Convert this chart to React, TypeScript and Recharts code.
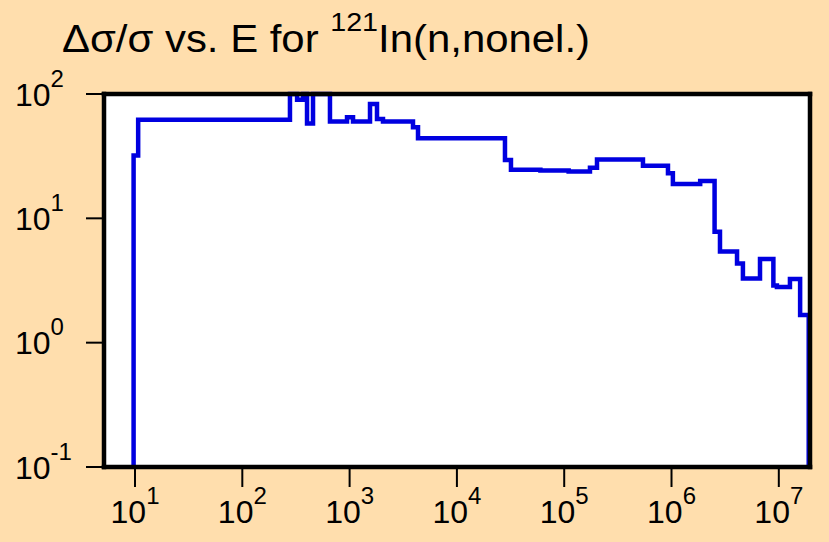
import { CartesianGrid, Line, LineChart, XAxis, YAxis } from "recharts";

// bin edges in eV and the relative uncertainty (%) of each bin
const binEdges = [
  9.7, 10.7, 278, 324, 368, 401, 456, 656, 946, 1076, 1549, 1800, 2047, 3897, 4340,
  28050, 31900, 60000, 110000, 173800, 202100, 542000, 927000, 1.03e6, 1.85e6,
  2.52e6, 2.83e6, 4.08e6, 4.63e6, 6.68e6, 8.9e6, 9.6e6, 1.27e7, 1.58e7, 1.9e7,
];
const relUncert = [
  32, 62, 100, 90, 100, 58, 100, 60, 65, 60, 83, 63, 60, 54, 44,
  29.4, 24.6, 24.2, 23.8, 25.5, 29.7, 26.5, 23, 18.9, 20,
  7.8, 5.4, 4.33, 3.28, 4.71, 2.88, 2.8, 3.25, 1.67,
];
const xTicks = [1e1, 1e2, 1e3, 1e4, 1e5, 1e6, 1e7];
const yTicks = [0.1, 1, 10, 100];
const xDomain = [5.14, 1.953e7];
const yDomain = [0.1, 100];

const data = [
  { e: binEdges[0], v: yDomain[0] },
  ...relUncert.map((v, i) => ({ e: binEdges[i], v })),
  { e: binEdges[binEdges.length - 1], v: yDomain[0] },
];

const FONT = "'Liberation Sans', Arial, Helvetica, sans-serif";
const BG = "#FFDEAD";
const frame = { stroke: "#000", strokeWidth: 4.5, strokeLinecap: "square" as const };
const tickLn = { stroke: "#000", strokeWidth: 2 };

function exp10(v: number) {
  return String(Math.round(Math.log10(v)));
}

function BottomTick(props: any) {
  const { x, payload } = props;
  return (
    <text x={x} y={523} textAnchor="middle" fontFamily={FONT} fontSize={32} fill="#000">
      <tspan>10</tspan>
      <tspan dy={-19} fontSize={24}>{exp10(payload.value)}</tspan>
    </text>
  );
}

function LeftTick(props: any) {
  const { y, payload } = props;
  return (
    <text x={15} y={y + 11.5} textAnchor="start" fontFamily={FONT} fontSize={32} fill="#000">
      <tspan>10</tspan>
      <tspan dy={-19} fontSize={24}>{exp10(payload.value)}</tspan>
    </text>
  );
}

export default function App() {
  return (
    <div style={{ position: "absolute", left: 0, top: 0, width: 829, height: 542, background: BG }}>
      <LineChart width={829} height={542} data={data} margin={{ top: 0, right: 0, bottom: 0, left: 0 }}>
        <CartesianGrid xAxisId="b" yAxisId="l" horizontal={false} vertical={false} fill="#ffffff" fillOpacity={1} />
        <XAxis
          xAxisId="b"
          dataKey="e"
          type="number"
          scale="log"
          domain={xDomain}
          ticks={xTicks}
          interval={0}
          height={75}
          tickSize={20}
          axisLine={frame}
          tickLine={tickLn}
          tick={<BottomTick />}
        />
        <XAxis
          xAxisId="t"
          orientation="top"
          dataKey="e"
          type="number"
          scale="log"
          domain={xDomain}
          ticks={xTicks}
          interval={0}
          height={94}
          tickSize={20}
          axisLine={frame}
          tickLine={tickLn}
          tick={false}
        />
        <YAxis
          yAxisId="l"
          type="number"
          scale="log"
          domain={yDomain}
          ticks={yTicks}
          interval={0}
          width={104}
          tickSize={18}
          axisLine={frame}
          tickLine={tickLn}
          tick={<LeftTick />}
        />
        <YAxis
          yAxisId="r"
          orientation="right"
          type="number"
          scale="log"
          domain={yDomain}
          ticks={yTicks}
          interval={0}
          width={19}
          tickSize={19}
          axisLine={frame}
          tickLine={tickLn}
          tick={false}
        />
        <Line
          xAxisId="b"
          yAxisId="l"
          type="stepAfter"
          dataKey="v"
          stroke="#0000e0"
          strokeWidth={4.5}
          dot={false}
          activeDot={false}
          isAnimationActive={false}
        />
      </LineChart>
      <svg width={829} height={80} style={{ position: "absolute", left: 0, top: 0, pointerEvents: "none" }}>
        <text x={62} y={52} fontFamily={FONT} fontSize={38} fill="#000" textLength={528} lengthAdjust="spacingAndGlyphs">
          <tspan>Δσ/σ vs. E for </tspan>
          <tspan dy={-21} fontSize={26}>121</tspan>
          <tspan dy={21}>In(n,nonel.)</tspan>
        </text>
      </svg>
    </div>
  );
}
